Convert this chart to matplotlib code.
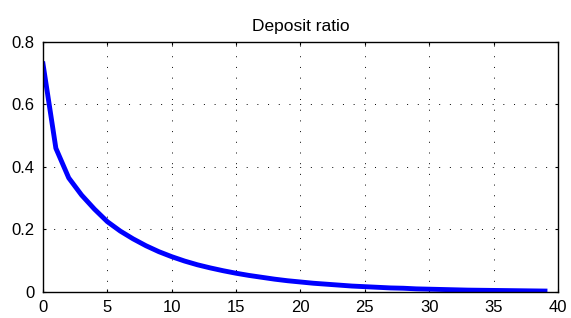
import matplotlib
matplotlib.use("Agg")
from matplotlib import pyplot as plt

plt.rcParams['font.family'] = ['Liberation Sans', 'DejaVu Sans']

periods = list(range(40))
deposit_ratio = [0.73, 0.46, 0.365, 0.31, 0.265, 0.225, 0.195, 0.17, 0.148, 0.129,
                 0.113, 0.099, 0.087, 0.077, 0.068, 0.060, 0.053, 0.047, 0.041, 0.036,
                 0.032, 0.028, 0.025, 0.022, 0.019, 0.017, 0.015, 0.013, 0.012, 0.010,
                 0.009, 0.008, 0.007, 0.006, 0.0055, 0.005, 0.0045, 0.004, 0.0035, 0.003]
xticks = [0, 5, 10, 15, 20, 25, 30, 35, 40]
yticks = [0, 0.2, 0.4, 0.6, 0.8]
ytick_labels = ["0", "0.2", "0.4", "0.6", "0.8"]

fig = plt.figure(figsize=(5.71, 3.18), dpi=100)
ax = fig.add_axes([0.0753, 0.0818, 0.9017, 0.7862])

ax.plot(periods, deposit_ratio, color='blue', linewidth=3.5)

ax.set_xlim(0, 40)
ax.set_ylim(0, 0.8)
ax.set_xticks(xticks)
ax.set_xticklabels([str(v) for v in xticks])
ax.set_yticks(yticks)
ax.set_yticklabels(ytick_labels)
ax.tick_params(direction='in', top=True, right=True, length=2.5, width=0.8,
               labelsize=12, pad=6)
for s in ax.spines.values():
    s.set_linewidth(1)

# 点状网格线，点距稀疏
ax.grid(True, color='black', linestyle=(0, (1, 10)), linewidth=0.7)

ax.set_title("Deposit ratio", fontsize=12.5, pad=8)

fig.savefig("out.png", dpi=100)
